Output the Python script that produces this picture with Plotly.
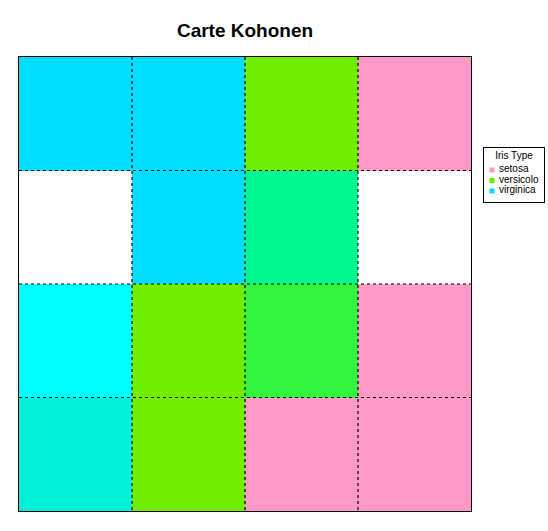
import plotly.graph_objects as go

# Cell colours of the 4x4 Kohonen map, listed top row first
cell_colors = [
    ["#00DDFF", "#00DDFF", "#70EE00", "#FF99C8"],
    ["#FFFFFF", "#00DDFF", "#00F890", "#FFFFFF"],
    ["#00FFFF", "#70EE00", "#33F540", "#FF99C8"],
    ["#00F0D8", "#70EE00", "#FF99C8", "#FF99C8"],
]
legend_title = "Iris Type"
legend_names = ["setosa", "versicolo", "virginica"]
legend_colors = ["#FF99C8", "#66EE00", "#00DDFF"]

nrows = len(cell_colors)
ncols = len(cell_colors[0])

palette = []
for row in cell_colors:
    for c in row:
        if c not in palette:
            palette.append(c)
z = [[palette.index(c) for c in row] for row in cell_colors]
n = len(palette)
colorscale = []
for i, c in enumerate(palette):
    colorscale.append([i / n, c])
    colorscale.append([(i + 1) / n, c])

FONT = "Liberation Sans, Arial, sans-serif"
fig = go.Figure()
fig.add_trace(go.Heatmap(
    z=z, x=list(range(ncols)), y=list(range(nrows)),
    zmin=0, zmax=n, colorscale=colorscale, showscale=False, hoverinfo="skip"))

# dotted cell boundaries
for k in range(1, ncols):
    fig.add_trace(go.Scatter(x=[k - 0.5, k - 0.5], y=[-0.5, nrows - 0.5], mode="lines",
                             line=dict(color="black", width=1.2, dash="dot"),
                             showlegend=False, hoverinfo="skip"))
for k in range(1, nrows):
    fig.add_trace(go.Scatter(x=[-0.5, ncols - 0.5], y=[k - 0.5, k - 0.5], mode="lines",
                             line=dict(color="black", width=1.2, dash="dot"),
                             showlegend=False, hoverinfo="skip"))

# legend drawn on its own small axes
idx = list(range(len(legend_names)))
fig.add_trace(go.Scatter(x=[8] * len(idx), y=idx, mode="markers", xaxis="x2", yaxis="y2",
                         marker=dict(symbol="square", size=5, color=legend_colors),
                         showlegend=False, hoverinfo="skip"))
fig.add_trace(go.Scatter(x=[15] * len(idx), y=idx, mode="text", text=legend_names,
                         textposition="middle right", xaxis="x2", yaxis="y2",
                         textfont=dict(family=FONT, size=10, color="black"),
                         showlegend=False, hoverinfo="skip"))
fig.add_trace(go.Scatter(x=[30], y=[-1.33], mode="text", text=[legend_title],
                         textposition="middle center", xaxis="x2", yaxis="y2",
                         textfont=dict(family=FONT, size=10, color="black"),
                         showlegend=False, hoverinfo="skip"))

fig.update_layout(
    width=548, height=531,
    margin=dict(l=19, r=4, t=57, b=20),
    paper_bgcolor="white", plot_bgcolor="white",
    showlegend=False,
    title=dict(text="<b>Carte Kohonen</b>", x=245 / 548, xanchor="center",
               y=1 - 30 / 531, yanchor="middle",
               font=dict(family=FONT, size=19, color="black")),
    xaxis=dict(domain=[0, 452 / 525], range=[-0.5, ncols - 0.5], showticklabels=False,
               ticks="", showgrid=False, zeroline=False, showline=True,
               linecolor="black", linewidth=1, mirror=True, fixedrange=True),
    yaxis=dict(range=[nrows - 0.5, -0.5], showticklabels=False, ticks="", showgrid=False,
               zeroline=False, showline=True, linecolor="black", linewidth=1, mirror=True,
               fixedrange=True),
    xaxis2=dict(domain=[(484 - 19) / 525, (544 - 19) / 525], range=[0, 60], anchor="y2",
                showticklabels=False, ticks="", showgrid=False, zeroline=False,
                showline=True, linecolor="black", linewidth=1, mirror=True, fixedrange=True),
    yaxis2=dict(domain=[(511 - 202) / 454, (511 - 148) / 454], range=[3.05, -2.095],
                anchor="x2", showticklabels=False, ticks="", showgrid=False,
                zeroline=False, showline=True, linecolor="black", linewidth=1,
                mirror=True, fixedrange=True),
)

fig.write_html("out.html")
